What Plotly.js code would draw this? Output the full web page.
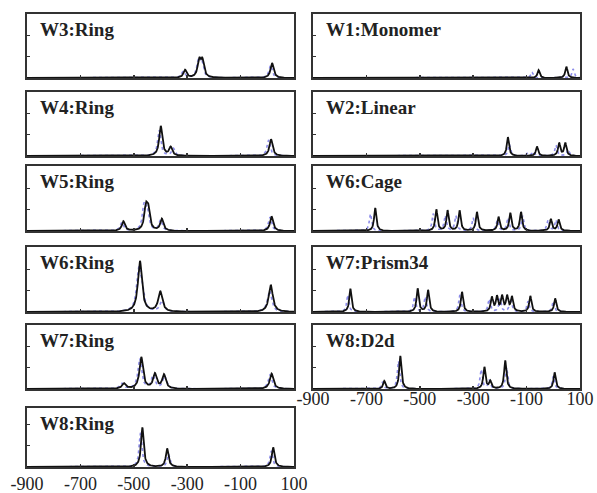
<!DOCTYPE html>
<html><head><meta charset="utf-8">
<script src="https://cdn.plot.ly/plotly-3.0.1.min.js"></script>
<style>html,body{margin:0;padding:0;background:#fff}#chart{width:597px;height:493px}</style>
</head><body><div id="chart"></div>
<script>
// ---- data: peak positions (x) and heights for each panel ----
// black solid spectrum
const w3RingPos = [-308, -255, -243, 18];
const w3RingAmp = [0.37, 0.78, 0.75, 0.70];
const w4RingPos = [-399, -362, 14];
const w4RingAmp = [1.40, 0.40, 0.78];
const w5RingPos = [-539, -455, -446, -395, 16];
const w5RingAmp = [0.45, 1.00, 0.90, 0.55, 0.68];
const w6RingPos = [-477, -401, 13];
const w6RingAmp = [2.38, 0.95, 1.27];
const w7RingPos = [-537, -472, -421, -387, 16];
const w7RingAmp = [0.25, 1.48, 0.68, 0.65, 0.72];
const w8RingPos = [-468, -375, 22];
const w8RingAmp = [1.85, 0.86, 0.92];
const w1MonoPos = [-55, 49];
const w1MonoAmp = [0.37, 0.53];
const w2LinPos = [-170, -61, 22, 45];
const w2LinAmp = [0.88, 0.44, 0.60, 0.60];
const w6CagePos = [-667, -438, -396, -351, -286, -205, -161, -121, -9, 20];
const w6CageAmp = [1.08, 1.00, 0.95, 0.95, 0.88, 0.65, 0.83, 0.88, 0.55, 0.52];
const w7PrismPos = [-760, -508, -469, -342, -230, -211, -192, -173, -155, -86, 7];
const w7PrismAmp = [1.09, 1.09, 1.02, 0.94, 0.66, 0.68, 0.70, 0.70, 0.68, 0.74, 0.63];
const w8D2dPos = [-633, -573, -258, -236, -180, 5];
const w8D2dAmp = [0.37, 1.55, 1.02, 0.35, 1.33, 0.78];
// blue dotted spectrum
const w3RingPosB = [-315, -258, -246, 12];
const w3RingAmpB = [0.30, 0.80, 0.70, 0.60];
const w4RingPosB = [-405, -352, 5];
const w4RingAmpB = [1.20, 0.35, 0.75];
const w5RingPosB = [-545, -462, -450, -400, 10];
const w5RingAmpB = [0.40, 1.10, 0.90, 0.50, 0.65];
const w6RingPosB = [-482, -470, -395, 8];
const w6RingAmpB = [1.80, 0.90, 0.50, 1.00];
const w7RingPosB = [-545, -478, -428, -385, 10];
const w7RingAmpB = [0.25, 1.40, 0.60, 0.60, 0.65];
const w8RingPosB = [-475, -370, 15];
const w8RingAmpB = [1.60, 0.60, 0.75];
const w1MonoPosB = [-80, 74];
const w1MonoAmpB = [0.28, 0.42];
const w2LinPosB = [-165, -95, -75, 10, 55];
const w2LinAmpB = [0.55, 0.15, 0.20, 0.50, 0.30];
const w6CagePosB = [-685, -450, -405, -365, -300, -210, -170, -115, -20, 10];
const w6CageAmpB = [0.80, 0.80, 0.70, 0.70, 0.60, 0.50, 0.60, 0.70, 0.50, 0.50];
const w7PrismPosB = [-770, -520, -480, -350, -240, -200, -160, -95, 0];
const w7PrismAmpB = [0.80, 0.70, 0.70, 0.80, 0.60, 0.60, 0.60, 0.50, 0.50];
const w8D2dPosB = [-640, -580, -270, -240, -175, 0];
const w8D2dAmpB = [0.30, 1.30, 0.90, 0.40, 1.00, 0.60];

const panelTitles = ['W3:Ring','W4:Ring','W5:Ring','W6:Ring','W7:Ring','W8:Ring',
                     'W1:Monomer','W2:Linear','W6:Cage','W7:Prism34','W8:D2d'];
const xTickVals = [-900, -700, -500, -300, -100, 100];
const xTickText = ['-900', '-700', '-500', '-300', '-100', '100'];
const yTickVals = [1, 2];

// ---- layout ----
const W = 597, H = 493;
const panels = [
  {t: panelTitles[0], p: w3RingPos, a: w3RingAmp, pb: w3RingPosB, ab: w3RingAmpB, g: 7, box: [27, 14, 294, 78]},
  {t: panelTitles[1], p: w4RingPos, a: w4RingAmp, pb: w4RingPosB, ab: w4RingAmpB, g: 7, box: [27, 92, 294, 156]},
  {t: panelTitles[2], p: w5RingPos, a: w5RingAmp, pb: w5RingPosB, ab: w5RingAmpB, g: 7, box: [27, 166, 294, 231]},
  {t: panelTitles[3], p: w6RingPos, a: w6RingAmp, pb: w6RingPosB, ab: w6RingAmpB, g: 9, box: [27, 247, 294, 312]},
  {t: panelTitles[4], p: w7RingPos, a: w7RingAmp, pb: w7RingPosB, ab: w7RingAmpB, g: 8, box: [27, 325, 294, 389]},
  {t: panelTitles[5], p: w8RingPos, a: w8RingAmp, pb: w8RingPosB, ab: w8RingAmpB, g: 6, box: [27, 408, 294, 467], labels: true, standoff: 0},
  {t: panelTitles[6], p: w1MonoPos, a: w1MonoAmp, pb: w1MonoPosB, ab: w1MonoAmpB, g: 5, box: [313, 14, 580, 78]},
  {t: panelTitles[7], p: w2LinPos, a: w2LinAmp, pb: w2LinPosB, ab: w2LinAmpB, g: 5, box: [313, 92, 580, 156]},
  {t: panelTitles[8], p: w6CagePos, a: w6CageAmp, pb: w6CagePosB, ab: w6CageAmpB, g: 5, box: [313, 166, 580, 231]},
  {t: panelTitles[9], p: w7PrismPos, a: w7PrismAmp, pb: w7PrismPosB, ab: w7PrismAmpB, g: 5, box: [313, 247, 580, 312]},
  {t: panelTitles[10], p: w8D2dPos, a: w8D2dAmp, pb: w8D2dPosB, ab: w8D2dAmpB, g: 5, box: [313, 325, 580, 389], labels: true, standoff: -7}
];

const xs = [];
for (let x = -900; x <= 100; x += 1) xs.push(x);
function spectrum(pos, amp, g) {
  return xs.map(x => {
    let s = 0;
    for (let i = 0; i < pos.length; i++) {
      const d = x - pos[i];
      s += amp[i] * g * g / (d * d + g * g);
    }
    return s;
  });
}

const traces = [];
const layout = {
  width: W, height: H,
  margin: {l: 0, r: 0, t: 0, b: 0},
  paper_bgcolor: '#fff', plot_bgcolor: '#fff',
  showlegend: false,
  annotations: []
};
const pxPerUnit = 64 / 3;
panels.forEach((pn, i) => {
  const k = i + 1;
  const xa = 'x' + (k === 1 ? '' : k), ya = 'y' + (k === 1 ? '' : k);
  const [l, t, r, b] = pn.box;
  traces.push({x: xs, y: spectrum(pn.pb, pn.ab, pn.g), xaxis: xa, yaxis: ya, mode: 'lines',
    line: {color: 'rgba(100,100,225,0.75)', width: 1.6, dash: 'dot'}, hoverinfo: 'skip'});
  traces.push({x: xs, y: spectrum(pn.p, pn.a, pn.g), xaxis: xa, yaxis: ya, mode: 'lines',
    line: {color: '#111', width: 1.8}, hoverinfo: 'skip'});
  const yTop = (b - t) / pxPerUnit;
  layout['xaxis' + (k === 1 ? '' : k)] = {
    domain: [l / W, r / W], anchor: ya, range: [-900, 100],
    tickvals: xTickVals, ticktext: xTickText, ticks: 'inside', ticklen: 3, tickwidth: 1.5, tickcolor: '#333',
    showticklabels: !!pn.labels, ticklabelstandoff: pn.standoff || 0,
    tickfont: {family: 'Liberation Serif', size: 18, color: '#222'},
    showline: true, mirror: true, linecolor: '#333', linewidth: 1.6,
    showgrid: false, zeroline: false, fixedrange: true
  };
  layout['yaxis' + (k === 1 ? '' : k)] = {
    domain: [1 - b / H, 1 - t / H], anchor: xa, range: [0, yTop],
    tickvals: yTickVals, ticks: 'inside', ticklen: 3, tickwidth: 1.5, tickcolor: '#333',
    showticklabels: false,
    showline: true, mirror: true, linecolor: '#333', linewidth: 1.6,
    showgrid: false, zeroline: false, fixedrange: true
  };
  layout.annotations.push({
    text: '<b>' + pn.t + '</b>', xref: 'paper', yref: 'paper',
    x: (l + 11) / W, y: 1 - (t + 3) / H, xanchor: 'left', yanchor: 'top', showarrow: false,
    font: {family: 'Liberation Serif', size: 19, color: '#222'}
  });
});

Plotly.newPlot('chart', traces, layout, {staticPlot: true, displayModeBar: false});
</script>
</body></html>
